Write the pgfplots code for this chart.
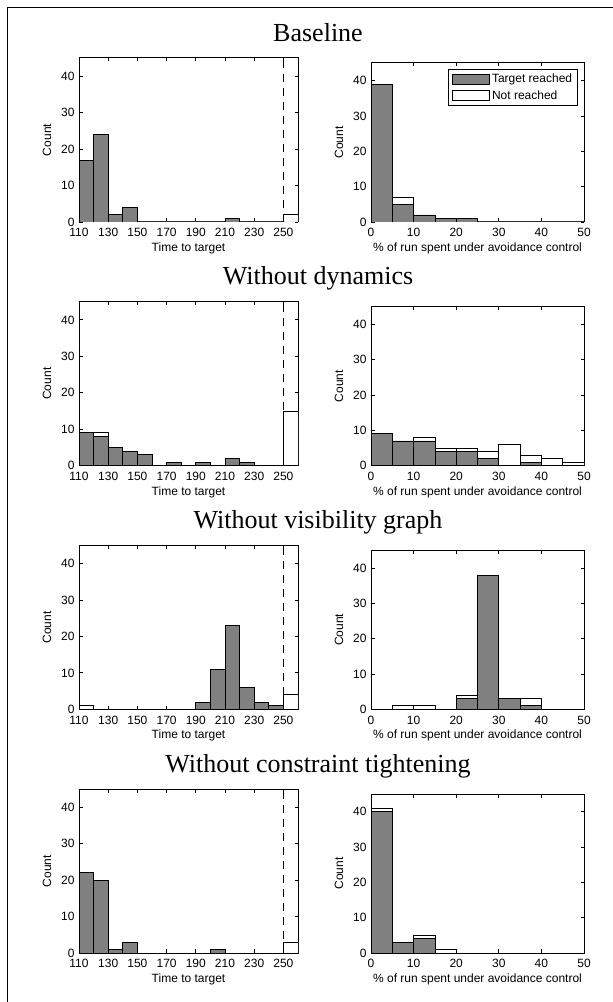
\documentclass[border=0pt]{standalone}
\usepackage{fontspec}
\setmainfont{Liberation Sans}
\newfontfamily\titlefont{Liberation Serif}
\usepackage{pgfplots}
\usepackage{pgfplotstable}
\pgfplotsset{compat=1.18}
\definecolor{bargray}{RGB}{128,128,128}

% left column: Time to target, bins of 10 (centres); t = all runs, r = target reached
\pgfplotstableread{
x bt br dt dr vt vr ct cr
115 17 17 9 9 1 0 22 22
125 24 24 9 8 0 0 20 20
135 2 2 5 5 0 0 1 1
145 4 4 4 4 0 0 3 3
155 0 0 3 3 0 0 0 0
165 0 0 0 0 0 0 0 0
175 0 0 1 1 0 0 0 0
185 0 0 0 0 0 0 0 0
195 0 0 1 1 2 2 0 0
205 0 0 0 0 11 11 1 1
215 1 1 2 2 23 23 0 0
225 0 0 1 1 6 6 0 0
235 0 0 0 0 2 2 0 0
245 0 0 0 0 1 1 0 0
255 2 0 15 0 4 0 3 0
}\lefttab

% right column: % of run under avoidance control, bins of 5
\pgfplotstableread{
x bt br dt dr vt vr ct cr
2.5 39 39 9 9 0 0 41 40
7.5 7 5 7 7 1 0 3 3
12.5 2 2 8 7 1 0 5 4
17.5 1 1 5 4 0 0 1 0
22.5 1 1 5 4 4 3 0 0
27.5 0 0 4 2 38 38 0 0
32.5 0 0 6 0 3 3 0 0
37.5 0 0 3 1 3 1 0 0
42.5 0 0 2 0 0 0 0 0
47.5 0 0 1 0 0 0 0 0
}\righttab

\tikzset{sfont/.style={font=\fontsize{12bp}{14bp}\selectfont}}
\pgfplotsset{
  hbase/.style={
    scale only axis, anchor=south west,
    ymin=0, ymax=45, ytick={0,10,20,30,40},
    tick align=inside, tick pos=both, major tick length=3.5bp,
    axis line style={line width=1bp},
    every tick/.style={black, line width=0.8bp},
    tick label style={sfont}, label style={sfont},
    xticklabel style={yshift=-3bp},
    yticklabel style={xshift=-1bp},
    /pgf/number format/assume math mode=true,
    ylabel={Count},
    ylabel shift=3bp, xlabel shift=-1bp,
  },
  hleft/.style={hbase, width=219bp, height=164bp,
    xmin=110, xmax=260, xtick={110,130,...,250},
    xlabel={Time to target}},
  hright/.style={hbase, width=213bp, height=159bp,
    xmin=0, xmax=50, xtick={0,10,...,50},
    xlabel={\% of run spent under avoidance control}},
  tbar/.style={ybar, bar shift=0pt, fill=white, draw=black, line width=0.8bp, forget plot},
  rbar/.style={ybar, bar shift=0pt, fill=bargray, draw=black, line width=0.8bp, forget plot},
  withlegend/.style={
    legend style={at={(1,1)}, anchor=north east, xshift=-6bp, yshift=-6bp,
      draw=black, line width=0.8bp, sfont, inner xsep=3.5bp, inner ysep=2.5bp, row sep=2.5bp,
      cells={anchor=west}},
    legend image code/.code={\draw[##1, line width=0.8bp] (0bp,-5bp) rectangle (37bp,5bp);}},
  nolegend/.style={},
}

\newif\ifleg
\newcommand{\panelrow}[5]{%
  \node[font=\titlefont\fontsize{26bp}{30bp}\selectfont, anchor=base] at (318bp,#2bp+180.7bp) {#1};
  \begin{axis}[hleft, at={(79bp,#2bp)}]
    \addplot[tbar, bar width=10] table[x=x,y=#3]{\lefttab};
    \addplot[rbar, bar width=10] table[x=x,y=#4]{\lefttab};
    \addplot[black, line width=0.7bp, dash pattern=on 8bp off 6bp, forget plot] coordinates {(250,0) (250,45)};
  \end{axis}
  \begin{axis}[hright, at={(371bp,#2bp)}, #5]
    \addplot[tbar, bar width=5] table[x=x,y=#3]{\righttab};
    \addplot[rbar, bar width=5] table[x=x,y=#4]{\righttab};
    \ifleg
      \addlegendimage{fill=bargray}\addlegendentry{Target reached}
      \addlegendimage{fill=white}\addlegendentry{Not reached}
    \fi
  \end{axis}
}

\begin{document}
\begin{tikzpicture}
  \useasboundingbox (0,0) rectangle (613bp,1002bp);
  \draw[line width=1bp] (7bp,-5bp) -- (7bp,994bp) -- (620bp,994bp);
  \legtrue
  \panelrow{Baseline}{780}{bt}{br}{withlegend}
  \legfalse
  \panelrow{Without dynamics}{536.33}{dt}{dr}{nolegend}
  \panelrow{Without visibility graph}{292.67}{vt}{vr}{nolegend}
  \panelrow{Without constraint tightening}{49}{ct}{cr}{nolegend}
\end{tikzpicture}
\end{document}
